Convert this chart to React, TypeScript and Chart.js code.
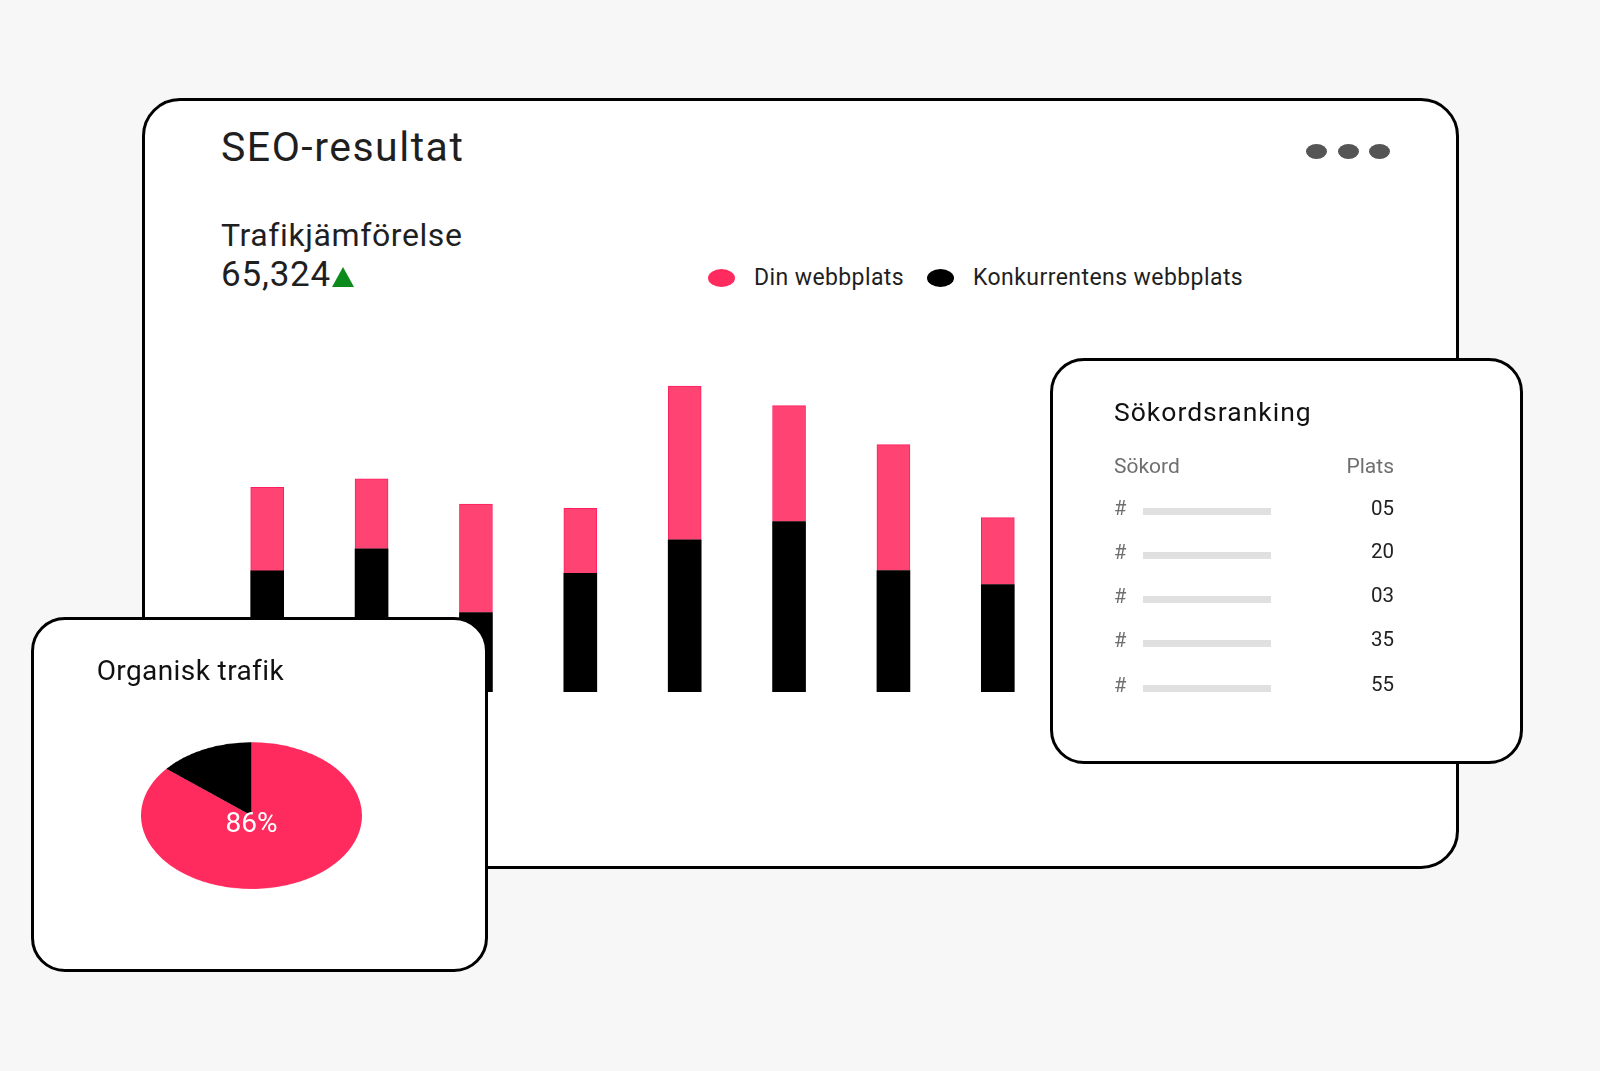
import React, { useEffect, useRef } from "react";
import { Chart, registerables } from "chart.js";

Chart.register(...registerables);

const categories = ["jan", "feb", "mar", "apr", "maj", "jun", "jul", "aug"];
const competitorValues = [34.6, 40.9, 22.7, 33.9, 43.5, 48.7, 34.7, 30.7];
const ownValues = [23.9, 20.0, 31.0, 18.6, 43.9, 33.1, 36.0, 19.1];
const seriesNames = ["Din webbplats", "Konkurrentens webbplats"];

const pieLabels = ["Organisk", "Övrig"];
const pieValues = [86, 14];

const rankPositions = ["05", "20", "03", "35", "55"];

const FONT = "Roboto, 'Noto Sans', sans-serif";
const PINK = "#ff4473";
const PINK_BORDER = "#ff1f5e";
const PIE_PINK = "#ff2b5e";

type TProps = {
  x: number;
  base: number;
  size: number;
  color?: string;
  align?: "left" | "right" | "center";
  ls?: number;
  children: React.ReactNode;
};

function T({ x, base, size, color = "#1f1f1f", align = "left", ls = 0, children }: TProps) {
  const w = 600;
  const left = align === "left" ? x : align === "right" ? x - w : x - w / 2;
  return (
    <div
      style={{
        position: "absolute",
        left,
        top: base - 0.842 * size,
        width: w,
        fontFamily: FONT,
        fontSize: size,
        lineHeight: 1,
        color,
        textAlign: align,
        whiteSpace: "nowrap",
        letterSpacing: ls,
      }}
    >
      {children}
    </div>
  );
}

const card = (left: number, top: number, width: number, height: number, radius: number, z: number): React.CSSProperties => ({
  position: "absolute",
  left,
  top,
  width,
  height,
  boxSizing: "border-box",
  border: "3px solid #000",
  borderRadius: radius,
  background: "#fff",
  zIndex: z,
});

export default function App() {
  const barRef = useRef<HTMLCanvasElement | null>(null);
  const pieRef = useRef<HTMLCanvasElement | null>(null);

  useEffect(() => {
    document.body.style.margin = "0";
    document.body.style.background = "#f7f7f7";
    const bar = new Chart(barRef.current!, {
      type: "bar",
      data: {
        labels: categories,
        datasets: [
          {
            label: seriesNames[1],
            data: competitorValues,
            backgroundColor: "#000",
            borderWidth: 0,
            barThickness: 33,
          },
          {
            label: seriesNames[0],
            data: ownValues,
            backgroundColor: PINK,
            borderColor: PINK_BORDER,
            borderWidth: 1,
            barThickness: 33,
          },
        ],
      },
      options: {
        responsive: false,
        animation: false,
        layout: { padding: 0 },
        plugins: { legend: { display: false }, tooltip: { enabled: false } },
        scales: {
          x: { stacked: true, display: false },
          y: { stacked: true, display: false, min: 0, max: 100 },
        },
      },
    });
    const pie = new Chart(pieRef.current!, {
      type: "pie",
      data: {
        labels: pieLabels,
        datasets: [
          {
            data: pieValues,
            backgroundColor: [PIE_PINK, "#000"],
            borderWidth: 0,
          },
        ],
      },
      options: {
        responsive: false,
        animation: false,
        layout: { padding: 0 },
        plugins: { legend: { display: false }, tooltip: { enabled: false } },
      },
    });
    return () => {
      bar.destroy();
      pie.destroy();
    };
  }, []);

  const dot = (cx: number): React.CSSProperties => ({
    position: "absolute",
    left: cx - 10.5,
    top: 151.3 - 7.5,
    width: 21,
    height: 15,
    borderRadius: "50%",
    background: "#555",
  });

  const legendMark = (cx: number, color: string): React.CSSProperties => ({
    position: "absolute",
    left: cx - 13.5,
    top: 277.7 - 9,
    width: 27,
    height: 18,
    borderRadius: "50%",
    background: color,
  });

  const rowBases = [515, 558.5, 602.5, 646.5, 691.5];

  return (
    <div
      style={{
        position: "absolute",
        left: 0,
        top: 0,
        width: 1600,
        height: 1071,
        background: "#f7f7f7",
        overflow: "hidden",
        fontFamily: FONT,
      }}
    >
      {/* Main card */}
      <div style={card(142, 98, 1317, 771, 38, 1)} />
      <div style={{ position: "absolute", left: 0, top: 0, width: 1600, height: 1071, zIndex: 2 }}>
        <T x={221} base={161.7} size={41} color="#1f1f1f" ls={1.5}>SEO-resultat</T>
        <T x={221} base={246} size={32} color="#1f1f1f" ls={0.6}>Trafikjämförelse</T>
        <T x={221} base={286.7} size={35} color="#1f1f1f" ls={0.8}>65,324</T>
        <div
          style={{
            position: "absolute",
            left: 332,
            top: 266.7,
            width: 0,
            height: 0,
            borderLeft: "11px solid transparent",
            borderRight: "11px solid transparent",
            borderBottom: "20px solid #0d8a1c",
          }}
        />
        <div style={dot(1316.7)} />
        <div style={dot(1348.3)} />
        <div style={dot(1379.3)} />
        <div style={legendMark(721.5, PIE_PINK)} />
        <T x={754} base={285.8} size={23} color="#1f1f1f" ls={0.4}>{seriesNames[0]}</T>
        <div style={legendMark(940.5, "#000")} />
        <T x={973} base={285.8} size={23} color="#1f1f1f" ls={0.43}>{seriesNames[1]}</T>
        <canvas
          ref={barRef}
          width={835}
          height={350}
          style={{ position: "absolute", left: 215.3, top: 342, width: 835, height: 350 }}
        />
      </div>

      {/* Ranking card */}
      <div style={card(1050, 358, 473, 406, 34, 3)} />
      <div style={{ position: "absolute", left: 0, top: 0, width: 1600, height: 1071, zIndex: 4, pointerEvents: "none" }}>
        <T x={1114} base={421.7} size={26.5} color="#111" ls={1}>Sökordsranking</T>
        <T x={1114} base={473.8} size={21} color="#6f6f6f">Sökord</T>
        <T x={1394} base={473.8} size={21} color="#6f6f6f" align="right">Plats</T>
        {rankPositions.map((p, i) => (
          <React.Fragment key={i}>
            <T x={1114} base={rowBases[i]} size={20} color="#6f6f6f">#</T>
            <div
              style={{
                position: "absolute",
                left: 1143,
                top: rowBases[i] - 6.7,
                width: 128,
                height: 7,
                background: "#e0e0e0",
              }}
            />
            <T x={1394} base={rowBases[i]} size={20.5} color="#222" align="right">{p}</T>
          </React.Fragment>
        ))}
      </div>

      {/* Organic traffic card */}
      <div style={card(31, 617, 457, 355, 34, 5)} />
      <div style={{ position: "absolute", left: 0, top: 0, width: 1600, height: 1071, zIndex: 6, pointerEvents: "none" }}>
        <T x={96.7} base={680.7} size={28} color="#111" ls={0.4}>Organisk trafik</T>
        <div
          style={{
            position: "absolute",
            left: 141,
            top: 815.2 - 110.7,
            width: 221.4,
            height: 221.4,
            transform: "scaleY(0.664)",
            transformOrigin: "50% 50%",
          }}
        >
          <canvas ref={pieRef} width={221} height={221} style={{ width: 221, height: 221, display: "block" }} />
        </div>
        <T x={251.5} base={832.7} size={28} color="#fff" align="center">86%</T>
      </div>
    </div>
  );
}
